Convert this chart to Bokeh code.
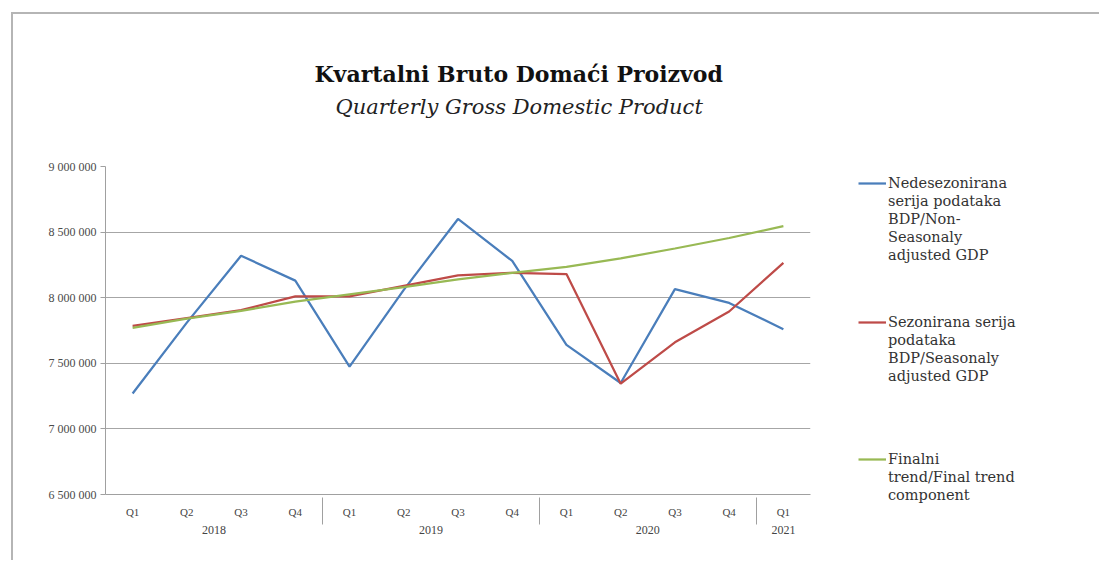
from bokeh.plotting import figure
from bokeh.models import FactorRange, Range1d, Legend, LegendItem, Title, FixedTicker, CategoricalAxis
from bokeh.embed import file_html
from bokeh.resources import INLINE

years = ["2018"] * 4 + ["2019"] * 4 + ["2020"] * 4 + ["2021"]
quarters = ["Q1", "Q2", "Q3", "Q4"] * 3 + ["Q1"]
nsa = [7270000, 7810000, 8320000, 8130000, 7475000, 8060000, 8600000, 8280000,
       7640000, 7350000, 8065000, 7960000, 7760000]
sa = [7785000, 7845000, 7905000, 8010000, 8010000, 8090000, 8170000, 8190000,
      8180000, 7345000, 7660000, 7895000, 8265000]
trend = [7770000, 7840000, 7900000, 7970000, 8025000, 8080000, 8140000, 8190000,
         8235000, 8300000, 8375000, 8455000, 8545000]
y_ticks = [6500000, 7000000, 7500000, 8000000, 8500000, 9000000]
y_tick_labels = ["6 500 000", "7 000 000", "7 500 000", "8 000 000", "8 500 000", "9 000 000"]
series_label_lines = [
    ["Nedesezonirana", "serija podataka", "BDP/Non-", "Seasonaly", "adjusted GDP"],
    ["Sezonirana serija", "podataka", "BDP/Seasonaly", "adjusted GDP"],
    ["Finalni", "trend/Final trend", "component"],
]
series_colors = ["#4a7ebb", "#be4b48", "#98b954"]
title_text = "Kvartalni Bruto Domaći Proizvod"
subtitle_text = "Quarterly Gross Domestic Product"

factors = list(zip(years, quarters))
series_values = [nsa, sa, trend]

x_range = FactorRange(*factors, group_padding=0, factor_padding=0, range_padding=0)
y_range = Range1d(6500000, 9000000)

# ---------------- main chart ----------------
p = figure(width=817, height=548, output_backend="svg", toolbar_location=None,
           x_range=x_range, y_range=y_range,
           min_border_left=92, min_border_right=20, min_border_top=152, min_border_bottom=68,
           x_axis_location=None)
p.styles = {"border-top": "2px solid #b5b5b5", "border-left": "2px solid #b5b5b5",
            "margin-left": "11px", "margin-top": "12px"}
p.outline_line_color = None
p.background_fill_color = "white"
p.border_fill_color = "white"

xaxis = CategoricalAxis()
xaxis.axis_line_color = "#a0a0a0"
xaxis.major_tick_line_color = None
xaxis.minor_tick_line_color = None
xaxis.major_label_text_font = "Liberation Serif"
xaxis.major_label_text_font_size = "11px"
xaxis.major_label_text_color = "#444444"
xaxis.major_label_standoff = 5
xaxis.group_text_font = "Liberation Serif"
xaxis.group_text_font_size = "12px"
xaxis.group_text_color = "#444444"
xaxis.group_text_font_style = "normal"
xaxis.separator_line_color = "#a0a0a0"
xaxis.separator_line_width = 1
p.add_layout(xaxis, "below")

p.yaxis.ticker = FixedTicker(ticks=y_ticks)
p.yaxis.major_label_overrides = dict(zip(y_ticks, y_tick_labels))
p.yaxis.major_label_text_font = "Liberation Serif"
p.yaxis.major_label_text_font_size = "12px"
p.yaxis.major_label_text_color = "#4a4a4a"
p.yaxis.axis_line_color = "#a0a0a0"
p.yaxis.major_tick_line_color = "#a0a0a0"
p.yaxis.major_tick_out = 5
p.yaxis.major_tick_in = 0
p.yaxis.minor_tick_line_color = None
p.yaxis.major_label_standoff = 4
p.xgrid.grid_line_color = None
p.ygrid.ticker = FixedTicker(ticks=y_ticks)
p.ygrid.grid_line_color = "#a6a6a6"
p.ygrid.grid_line_width = 1

for vals, c in zip(series_values, series_colors):
    p.line(x=factors, y=vals, line_color=c, line_width=2.25)

# titles: spacer (closest to frame), subtitle, main title
p.add_layout(Title(text=" ", text_font_size="1px", standoff=45), "above")
p.add_layout(Title(text=subtitle_text, align="left", offset=230, standoff=0,
                   text_font="DejaVu Serif", text_font_style="italic", text_font_size="21px",
                   text_color="#222222"), "above")
p.add_layout(Title(text=title_text, align="left", offset=209, standoff=11,
                   text_font="DejaVu Serif", text_font_style="bold", text_font_size="22px",
                   text_color="#111111"), "above")

# ---------------- legend panel (separate root, placed to the right) ----------------
pl = figure(width=271, height=548, output_backend="svg", toolbar_location=None,
            x_range=x_range, y_range=y_range, x_axis_location=None, y_axis_location=None,
            min_border=0)
pl.styles = {"position": "absolute", "left": "828px", "top": "12px",
             "border-top": "2px solid #b5b5b5"}
pl.outline_line_color = None
pl.grid.visible = False
pl.background_fill_color = "white"
pl.border_fill_color = "white"

blank = pl.line(x=[], y=[], line_alpha=0)
legend_y = [298, 177, 58]
for lines, vals, c, ly in zip(series_label_lines, series_values, series_colors, legend_y):
    proxy = pl.line(x=factors, y=vals, line_color=c, line_width=2.25, visible=False)
    items = [LegendItem(label=lines[0], renderers=[proxy])]
    items += [LegendItem(label=t, renderers=[blank]) for t in lines[1:]]
    lg = Legend(items=items, location=(30, ly), padding=0, margin=0, spacing=0,
                glyph_width=28, glyph_height=18, label_height=18, label_standoff=2,
                label_text_font="DejaVu Serif", label_text_font_size="14.5px",
                label_text_color="#333333", inactive_fill_alpha=0,
                border_line_color=None, background_fill_alpha=0)
    pl.add_layout(lg, "center")

open("out.html", "w").write(file_html([p, pl], INLINE))
